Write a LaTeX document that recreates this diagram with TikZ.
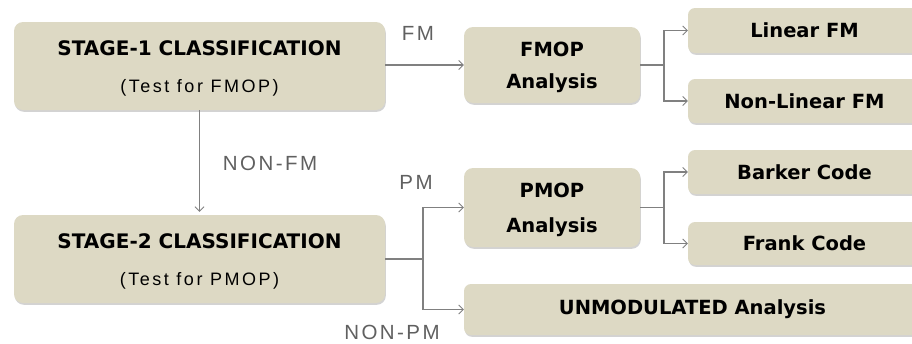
\documentclass[tikz,border=0pt]{standalone}
\usepackage{fontspec}
\setmainfont{Liberation Sans}
\newfontfamily\boxfamily{DejaVu Sans}
\newfontfamily\subfamily[LetterSpace=14]{Liberation Sans}
\newfontfamily\lblfamily[LetterSpace=12]{Liberation Sans}
\usetikzlibrary{arrows.meta,shadows}
\definecolor{boxfill}{HTML}{DDD9C4}
\definecolor{linegray}{HTML}{808080}
\definecolor{labelgray}{HTML}{606060}
\newcommand{\pushdown}{\rule{0pt}{20pt}}
\tikzset{
  box/.style={fill=boxfill, draw=none, rounded corners=9pt, align=center,
    font=\boxfamily\bfseries\fontsize{20}{37}\selectfont,
    drop shadow={shadow xshift=0.8pt, shadow yshift=-1.8pt, opacity=0.35, fill=gray},
    inner sep=0pt},
  smallbox/.style={box, rounded corners=7pt, font=\boxfamily\bfseries\fontsize{19.5}{22}\selectfont},
  conn/.style={draw=linegray, line width=1.1pt, -{Straight Barb[length=4.5pt,width=9pt,line width=0.9pt]}},
  plain/.style={draw=linegray, line width=1.1pt},
  lbl/.style={text=labelgray, font=\lblfamily\fontsize{20.5}{22}\selectfont, inner sep=0pt}
}
\begin{document}
\begin{tikzpicture}[x=1pt,y=-1pt]
\useasboundingbox (0,0) rectangle (912,343);
\begin{scope}
\clip (0,0) rectangle (912,343);
\node[box, minimum width=371pt, minimum height=88pt] (s1) at (199.5,66)
  {\pushdown STAGE-1 CLASSIFICATION\\{\subfamily\mdseries\fontsize{18}{20}\selectfont (Test for FMOP)}};
\node[box, minimum width=371pt, minimum height=88pt] (s2) at (199.5,259)
  {\pushdown STAGE-2 CLASSIFICATION\\{\subfamily\mdseries\fontsize{18}{20}\selectfont (Test for PMOP)}};
\node[box, minimum width=176pt, minimum height=76pt, font=\boxfamily\bfseries\fontsize{19.5}{32}\selectfont] (fmop) at (552,65)
  {\pushdown FMOP\\Analysis};
\node[box, minimum width=176pt, minimum height=79pt, font=\boxfamily\bfseries\fontsize{19.5}{35}\selectfont] (pmop) at (552,207.5)
  {\pushdown PMOP\\Analysis};
\node[smallbox, minimum width=233pt, minimum height=45pt] (lin) at (804.5,30.5) {Linear FM};
\node[smallbox, minimum width=233pt, minimum height=44pt] (nlin) at (804.5,101) {Non-Linear FM};
\node[smallbox, minimum width=233pt, minimum height=44pt] (bark) at (804.5,172) {Barker Code};
\node[smallbox, minimum width=233pt, minimum height=43pt] (frank) at (804.5,243.5) {Frank Code};
\node[smallbox, minimum width=457pt, minimum height=51pt] (unmod) at (692.5,309.5) {UNMODULATED Analysis};
\end{scope}

\draw[conn] (s1.east |- fmop.west) -- (fmop.west);
\draw[conn] (s1.south) -- ([yshift=3pt]s2.north);
\coordinate (f1) at (664,65);
\draw[plain] (fmop.east) -- (f1);
\draw[conn] (f1) |- (lin.west);
\draw[conn] (f1) |- (nlin.west);
\coordinate (f2) at (423,259);
\draw[draw=linegray, line width=2pt] (s2.east) -- (f2);
\draw[conn] (f2) |- (pmop.west);
\draw[conn] (f2) |- (unmod.west);
\coordinate (f3) at (664,207.5);
\draw[plain] (pmop.east) -- (f3);
\draw[conn] (f3) |- (bark.west);
\draw[conn] (f3) |- (frank.west);

\node[lbl] (lfm) at (418,33) {FM};
\node[lbl] (lnfm) at (270,163) {NON-FM};
\node[lbl] (lpm) at (416,182) {PM};
\node[lbl] (lnpm) at (392,332) {NON-PM};
\end{tikzpicture}
\end{document}
